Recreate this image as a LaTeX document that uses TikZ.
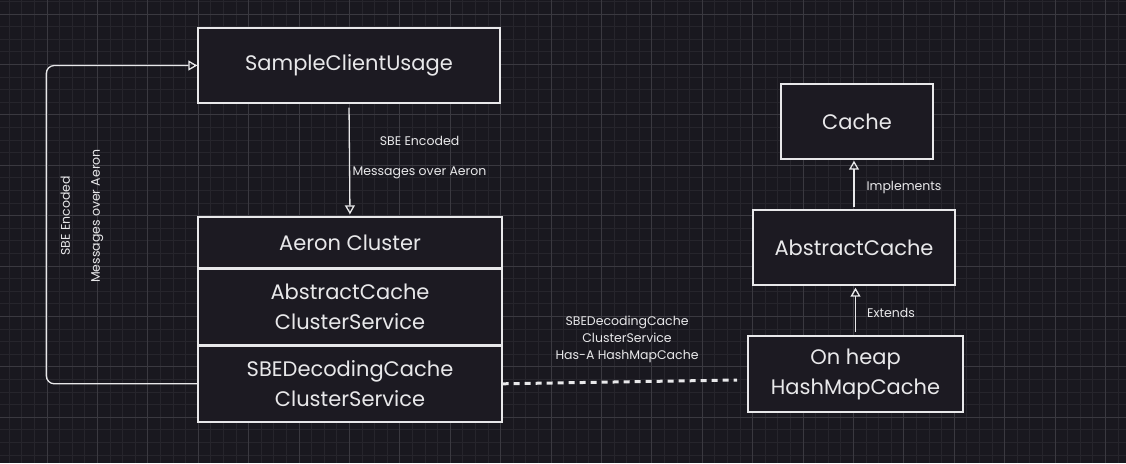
\documentclass[tikz,border=0pt]{standalone}
\usepackage{fontspec}
\setmainfont{Poppins}
\usetikzlibrary{positioning,arrows.meta,calc}

\definecolor{bgdark}{HTML}{19181F}
\definecolor{gridminor}{HTML}{26252C}
\definecolor{gridmajor}{HTML}{3A3940}
\definecolor{boxfill}{HTML}{1C1A22}
\definecolor{inkwhite}{HTML}{E8E8EA}

\begin{document}
\begin{tikzpicture}[x=1pt,y=-1pt,font=\fontsize{21}{30}\selectfont]
\tikzset{
% class boxes and the small notes beside the connectors
cls node/.style={rectangle,draw=inkwhite,fill=boxfill,line width=1.4pt,text=inkwhite,align=center,inner sep=0pt},
note/.style={text=inkwhite,align=center,inner sep=0pt,font=\fontsize{12.5}{17}\selectfont},
link/.style={draw=inkwhite,line width=1.3pt,-{Triangle[open,length=9pt,width=10pt]}},
has link/.style={draw=inkwhite,line width=3pt,dash pattern=on 6pt off 5pt},
grid minor/.style={draw=gridminor,line width=0.8pt},
grid major/.style={draw=gridmajor,line width=0.8pt}
}

% background and grid
\useasboundingbox (0,0) rectangle (1126,463);
\fill[bgdark] (0,0) rectangle (1126,463);
\foreach \i in {0,...,89} \draw[grid minor] ({-3.5+12.6*\i},0) -- ({-3.5+12.6*\i},463);
\foreach \i in {0,...,36} \draw[grid minor] (0,{1.3+12.6*\i}) -- (1126,{1.3+12.6*\i});
\foreach \i in {0,...,22} \draw[grid major] ({-3.5+50.4*\i},0) -- ({-3.5+50.4*\i},463);
\foreach \i in {0,...,9} \draw[grid major] (0,{13.9+50.4*\i}) -- (1126,{13.9+50.4*\i});

% The client
\node(client)[cls node,minimum width=302pt,minimum height=75pt] at (349,65.5) {SampleClientUsage};

% The cluster stack
\node(aeron)[cls node,minimum width=304pt,minimum height=51pt] at (350,242.5) {Aeron Cluster};
\node(service)[cls node,minimum width=304pt,minimum height=75pt,below=0pt of aeron] {AbstractCache\\ClusterService};
\node(sbe)[cls node,minimum width=304pt,minimum height=76pt,below=0pt of service] {SBEDecodingCache\\ClusterService};

% The cache hierarchy
\node(cache)[cls node,minimum width=152pt,minimum height=75pt] at (857,121.5) {Cache};
\node(abstract)[cls node,minimum width=202pt,minimum height=75pt] at (854,247.5) {AbstractCache};
\node(hash)[cls node,minimum width=215pt,minimum height=76pt] at (855.5,374) {On heap\\HashMapCache};

% connectors
\draw[link,shorten <=4pt,shorten >=2pt] (client.south) -- (aeron.north);
\node(encoded)[note,font=\fontsize{12.5}{30}\selectfont] at (419.5,158) {SBE Encoded\\Messages over Aeron};

\draw[link,rounded corners=8pt] (sbe.west) -- ++(-151,0) |- (client.west);
\node(encodedback)[note,rotate=90,font=\fontsize{12.5}{30}\selectfont] at (82,216) {SBE Encoded\\Messages over Aeron};

\draw[link,shorten <=2pt,shorten >=1pt] (abstract.north) -- (abstract.north |- cache.south);
\node(implements)[note] at (904,187) {Implements};

\draw[link,shorten <=3pt,shorten >=2pt] (hash.north) -- (hash.north |- abstract.south);
\node(extends)[note] at (891,313) {Extends};

% has-a link
\coordinate(hasend) at (737,380);
\draw[has link] (sbe.east) -- (hasend);
\node(hasa)[note] at (627,339) {SBEDecodingCache\\ClusterService\\Has-A HashMapCache};
\end{tikzpicture}
\end{document}
